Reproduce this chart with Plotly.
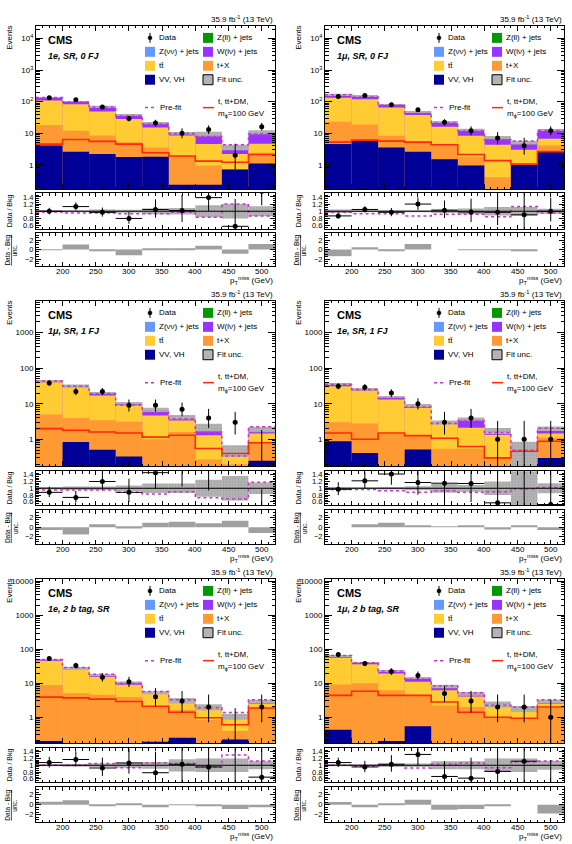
import math
import plotly.graph_objects as go

FIG_W, FIG_H = 572, 844
BIN_EDGES = [160, 200, 240, 280, 320, 360, 400, 440, 480, 520]
BIN_CENTERS = [180, 220, 260, 300, 340, 380, 420, 460, 500]
BIN_WIDTH = 40
X_TICK_LABELS = [200, 250, 300, 350, 400, 450, 500]

# ---------------- Panel A : 1e, SR, 0 FJ ----------------
A_VV = [4.1, 2.6, 2.2, 1.75, 1.8, 0.23, 0.23, 0.7, 1.1]
A_TX = [13.9, 9.4, 6.3, 3.45, 1.7, 1.67, 0.72, 0.02, 1.3]
A_TT = [90, 71, 40.5, 22.8, 11.5, 6.6, 3.55, 1.48, 2.2]
A_WL = [29, 19, 22, 10, 6, 1.5, 5.0, 1.4, 6.2]
A_DATA = [133, 115, 68, 29, 21, 10, 13, 2, 16]
A_SIG = [4.5, 6.3, 5.5, 4.5, 2.4, 1.9, 1.3, 1.2, 2.1]
A_RATIO = [1.0, 1.13, 0.97, 0.8, 1.05, 1.02, 1.38, 0.58, 1.55]
A_UNC = [0.03, 0.03, 0.05, 0.04, 0.08, 0.09, 0.17, 0.2, 0.14]
A_PREFIT = [0.98, 0.95, 0.95, 0.93, 0.93, 0.97, 0.83, 1.2, 0.87]
A_PULL = [-0.1, 1.1, -0.3, -1.2, 0.3, 0.1, 0.8, -0.9, 1.2]

# ---------------- Panel B : 1mu, SR, 0 FJ ----------------
B_VV = [4.5, 5.8, 3.5, 2.6, 1.5, 0.95, 0, 1.0, 2.6]
B_TX = [18.5, 13.2, 4.8, 2.8, 2.8, 0.85, 0.4, 0.1, 1.5]
B_TT = [110, 99, 56.7, 32.6, 11.7, 6.5, 3.9, 1.9, 2.5]
B_WL = [37, 33, 17, 10, 7, 4.4, 3.0, 2.0, 6.1]
B_DATA = [145, 155, 80, 55, 22, 12, 7, 4, 12]
B_SIG = [5.2, 6.0, 5.6, 5.2, 4.3, 2.1, 1.35, 1.05, 2.6]
B_RATIO = [0.87, 1.05, 0.97, 1.2, 1.03, 0.98, 0.97, 0.9, 1.0]
B_UNC = [0.05, 0.03, 0.03, 0.03, 0.05, 0.08, 0.12, 0.12, 0.07]
B_PREFIT = [0.97, 0.93, 0.93, 0.87, 0.92, 0.92, 0.85, 1.13, 0.95]
B_PULL = [-1.4, 0.5, -0.2, 1.2, 0.0, -0.1, -0.1, -0.2, 0.0]

# ---------------- Panel C : 1mu, SR, 1 FJ ----------------
C_VV = [0, 0.84, 0.51, 0.33, 0, 0, 0, 0, 0.25]
C_TX = [5, 3.16, 2.9, 2.77, 1.0, 1.6, 0.27, 0.2, 0.6]
C_TT = [35, 25, 13.6, 5.9, 3.7, 1.8, 1.03, 0.22, 0.6]
C_WL = [5, 4, 3, 1.4, 2.1, 0.8, 0.9, 0.08, 0.45]
C_DATA = [38, 22, 22, 9, 9, 7, 4, 3, 0]
C_SIG = [2.0, 1.8, 1.6, 1.5, 1.15, 1.3, 0.55, 0.4, 0.8]
C_RATIO = [0.88, 0.73, 1.2, 0.88, 1.46, 1.67, 1.8, 6.0, 0.0]
C_UNC = [0.04, 0.05, 0.05, 0.08, 0.14, 0.14, 0.25, 0.36, 0.17]
C_PREFIT = [0.95, 0.95, 0.95, 0.88, 0.83, 0.9, 0.72, 0.68, 1.18]
C_PULL = [-0.6, -1.5, 0.6, -0.3, 0.9, 1.1, 0.8, 1.3, -1.2]

# ---------------- Panel D : 1e, SR, 1 FJ ----------------
D_VV = [0.88, 0.41, 0, 0.52, 0, 0, 0, 0, 0.3]
D_TX = [2.12, 2.39, 1.4, 0.78, 0.54, 0.54, 0.3, 0.2, 0.8]
D_TT = [28, 20.7, 11.8, 6.4, 2.16, 1.56, 1.02, 0.06, 0.35]
D_WL = [5, 2.5, 2.2, 1.5, 0.3, 1.6, 0.42, 0.24, 0.55]
D_DATA = [31, 29, 20, 10, 3, 4, 1, 1, 1]
D_SIG = [1.5, 1.0, 1.5, 1.27, 1.07, 0.63, 0.3, 0.46, 0.88]
D_RATIO = [0.97, 1.22, 1.42, 1.17, 1.15, 1.14, 0.57, 2.0, 0.52]
D_UNC = [0.03, 0.03, 0.04, 0.06, 0.13, 0.1, 0.2, 0.7, 0.15]
D_PREFIT = [0.96, 0.96, 0.93, 0.88, 0.93, 0.88, 0.9, 0.98, 1.02]
D_PULL = [0.0, 0.6, 0.9, 0.2, 0.1, 0.3, -0.5, 0.3, -0.6]

# ---------------- Panel E : 1e, 2 b tag, SR ----------------
E_VV = [0.2, 0, 0, 0, 0.19, 0.25, 0, 0.22, 0]
E_TX = [8.7, 5.1, 4.6, 3.9, 1.91, 1.42, 0.82, 0.17, 1.87]
E_TT = [37.1, 20.9, 11, 5.1, 2.7, 1.13, 1.05, 0.51, 0.63]
E_WL = [4, 3, 1.9, 1.5, 0.5, 0.3, 0.13, 0.15, 0.4]
E_DATA = [53, 33, 15, 11, 4, 3, 2, 0, 2]
E_SIG = [3.9, 3.7, 3.4, 2.9, 2.1, 1.4, 0.96, 0.6, 1.87]
E_RATIO = [1.08, 1.17, 0.92, 1.07, 0.78, 1.03, 0.95, 0.0, 0.65]
E_UNC = [0.03, 0.04, 0.05, 0.07, 0.1, 0.18, 0.2, 0.2, 0.12]
E_PREFIT = [1.0, 1.0, 1.05, 0.93, 1.07, 1.05, 0.95, 1.3, 1.13]
E_PULL = [0.6, 0.9, -0.3, 0.2, -0.5, -0.1, -0.2, -0.9, -0.5]

# ---------------- Panel F : 1mu, 2 b tag, SR ----------------
F_VV = [0.43, 0, 0.2, 0.54, 0, 0, 0, 0, 0]
F_TX = [8.67, 10, 6.0, 3.86, 2.2, 2.0, 1.0, 0.93, 1.85]
F_TT = [46.9, 26, 13.2, 6.6, 4.0, 2.1, 1.2, 0.54, 0.65]
F_WL = [9, 5, 3.6, 3.4, 1.9, 0.8, 0.2, 0.3, 0.4]
F_DATA = [70, 38, 22, 17, 5, 3, 2, 2, 1]
F_SIG = [4.4, 5.8, 4.4, 4.4, 2.8, 1.4, 1.0, 0.93, 2.0]
F_RATIO = [1.08, 0.95, 1.03, 1.32, 0.67, 0.62, 0.82, 1.12, 0.35]
F_UNC = [0.03, 0.03, 0.05, 0.05, 0.12, 0.12, 0.2, 0.2, 0.13]
F_PREFIT = [1.0, 0.97, 1.0, 0.92, 1.03, 1.07, 0.93, 1.1, 1.13]
F_PULL = [0.55, -0.5, 0.1, 1.0, -1.05, -0.9, -0.3, 0.0, -1.8]

LABELS = ["1e, SR, 0 FJ", "1\u03bc, SR, 0 FJ", "1\u03bc, SR, 1 FJ",
          "1e, SR, 1 FJ", "1e, 2 b tag, SR", "1\u03bc, 2 b tag, SR"]
MAIN_TICKS = [1, 10, 100, 1000, 10000]
MAIN_TICKTEXT_ROW = [
    ["1", "10", "10<sup>2</sup>", "10<sup>3</sup>", "10<sup>4</sup>"],
    ["1", "10", "100", "1000", "10000"],
    ["1", "10", "100", "1000", "10000"],
]
MAIN_RANGE_ROW = [[-0.78, 4.4], [-0.76, 3.89], [-0.77, 4.07]]
RATIO_TICKS = [0.6, 0.8, 1.0, 1.2, 1.4]
RATIO_TICKTEXT = ["0.6", "0.8", "1", "1.2", "1.4"]
PULL_TICKS = [-2, 0, 2]
PULL_TICKTEXT = ["\u22122", "0", "2"]

COL_VV = "#000099"
COL_TX = "#ff9933"
COL_TT = "#ffcc33"
COL_WL = "#9933ff"
COL_ZNN = "#6699ff"
COL_ZLL = "#009900"
COL_UNC = "#b4b4b4"
COL_SIG = "#ff2a00"
COL_PRE = "#cc33cc"
FONT = "Liberation Sans, Arial, sans-serif"

PANELS = [
    dict(vv=A_VV, tx=A_TX, tt=A_TT, wl=A_WL, data=A_DATA, sig=A_SIG, ratio=A_RATIO, unc=A_UNC, pre=A_PREFIT, pull=A_PULL),
    dict(vv=B_VV, tx=B_TX, tt=B_TT, wl=B_WL, data=B_DATA, sig=B_SIG, ratio=B_RATIO, unc=B_UNC, pre=B_PREFIT, pull=B_PULL),
    dict(vv=C_VV, tx=C_TX, tt=C_TT, wl=C_WL, data=C_DATA, sig=C_SIG, ratio=C_RATIO, unc=C_UNC, pre=C_PREFIT, pull=C_PULL),
    dict(vv=D_VV, tx=D_TX, tt=D_TT, wl=D_WL, data=D_DATA, sig=D_SIG, ratio=D_RATIO, unc=D_UNC, pre=D_PREFIT, pull=D_PULL),
    dict(vv=E_VV, tx=E_TX, tt=E_TT, wl=E_WL, data=E_DATA, sig=E_SIG, ratio=E_RATIO, unc=E_UNC, pre=E_PREFIT, pull=E_PULL),
    dict(vv=F_VV, tx=F_TX, tt=F_TT, wl=F_WL, data=F_DATA, sig=F_SIG, ratio=F_RATIO, unc=F_UNC, pre=F_PREFIT, pull=F_PULL),
]

# ---- layout geometry (pixels) ----
COLS = [(36, 275), (325, 564)]
ROWS = [
    dict(main=(24, 188), ratio=(192, 228), pull=(232, 265)),
    dict(main=(300, 466), ratio=(471, 505), pull=(510, 544)),
    dict(main=(579, 744), ratio=(749, 783), pull=(788, 823)),
]


def xp(px):
    return px / FIG_W


def yp(py):
    return 1 - py / FIG_H


# ---- Garwood (Poisson 68%) intervals ----
ALPHA2 = 0.5 * (1 - 0.682689)


def pois_cdf(k, mu):
    if k < 0:
        return 0.0
    if mu <= 0:
        return 1.0
    s = 0.0
    for i in range(k + 1):
        s += math.exp(i * math.log(mu) - mu - math.lgamma(i + 1))
    return s


def bisect(f, lo, hi, it=80):
    for _ in range(it):
        mid = 0.5 * (lo + hi)
        if f(mid) > 0:
            lo = mid
        else:
            hi = mid
    return 0.5 * (lo + hi)


def garwood(n):
    up = bisect(lambda u: pois_cdf(n, u) - ALPHA2, float(n), n + 10 * math.sqrt(n + 1) + 10)
    lo = 0.0 if n == 0 else bisect(lambda l: pois_cdf(n - 1, l) - (1 - ALPHA2), 0.0, float(n))
    return lo, up


def step(vals):
    return list(BIN_EDGES), list(vals) + [vals[-1]]


fig = go.Figure()
layout = dict(width=FIG_W, height=FIG_H, margin=dict(l=0, r=0, t=0, b=0),
              paper_bgcolor="white", plot_bgcolor="white", showlegend=False,
              barmode="overlay", font=dict(family=FONT, size=8, color="black"))
shapes = []
annotations = []

unc_marker = dict(color=COL_UNC, line=dict(width=0),
                  pattern=dict(shape="+", fgcolor="#808080", size=3, solidity=0.2, fillmode="overlay"))


def decade_minor(lo, hi):
    vals = []
    for d in range(int(math.floor(lo)), int(math.ceil(hi)) + 1):
        for m in range(2, 10):
            vals.append(m * 10 ** d)
    return vals


def note(x, y, text, size=8, xanchor="left", yanchor="middle", angle=0, xref="paper"):
    annotations.append(dict(x=x, y=y, xref=xref, yref="paper", xanchor=xanchor, yanchor=yanchor,
                            textangle=angle, text=text, showarrow=False,
                            font=dict(size=size, family=FONT, color="black")))


for p, pan in enumerate(PANELS):
    row, col = divmod(p, 2)
    L, R = COLS[col]
    geo = ROWS[row]
    refs = []
    for s, key in enumerate(["main", "ratio", "pull"]):
        k = p * 3 + s + 1
        r = "" if k == 1 else str(k)
        refs.append(r)
        top, bot = geo[key]
        xa = dict(domain=[xp(L), xp(R)], anchor="y" + r, range=[160, 520],
                  showline=True, linecolor="black", linewidth=1, mirror="ticks",
                  ticks="inside", ticklen=5 if s == 0 else 4, tickcolor="black",
                  tickmode="linear", tick0=0, dtick=50,
                  minor=dict(ticks="inside", ticklen=2.5, tickmode="linear", tick0=0, dtick=10, tickcolor="black"),
                  showgrid=False, zeroline=False, showticklabels=False)
        ya = dict(domain=[yp(bot), yp(top)], anchor="x" + r,
                  showline=True, linecolor="black", linewidth=1, mirror="ticks",
                  ticks="inside", tickcolor="black", showgrid=False, zeroline=False,
                  tickfont=dict(size=8, family=FONT))
        if s == 0:
            rng = MAIN_RANGE_ROW[row]
            ya.update(type="log", range=rng, tickmode="array", tickvals=MAIN_TICKS,
                      ticktext=MAIN_TICKTEXT_ROW[row], ticklen=7,
                      minor=dict(ticks="inside", ticklen=3.5, tickvals=decade_minor(rng[0], rng[1]), tickcolor="black"))
        elif s == 1:
            ya.update(range=[0.5, 1.5], tickmode="array", tickvals=RATIO_TICKS, ticktext=RATIO_TICKTEXT,
                      ticklen=5, tickfont=dict(size=7.5, family=FONT),
                      minor=dict(ticks="inside", ticklen=2.5, tickmode="linear", tick0=0, dtick=0.05, tickcolor="black"))
        else:
            ya.update(range=[-3.5, 3.5], tickmode="array", tickvals=PULL_TICKS, ticktext=PULL_TICKTEXT,
                      ticklen=5, tickfont=dict(size=7.5, family=FONT),
                      minor=dict(ticks="inside", ticklen=2.5, tickmode="linear", tick0=0, dtick=0.5, tickcolor="black"))
        layout["xaxis" + r] = xa
        layout["yaxis" + r] = ya

    rm, rr, rp = refs
    # --- stacked backgrounds (cumulative, drawn back-to-front) ---
    c1 = [a for a in pan["vv"]]
    c2 = [a + b for a, b in zip(c1, pan["tx"])]
    c3 = [a + b for a, b in zip(c2, pan["tt"])]
    c4 = [a + b for a, b in zip(c3, pan["wl"])]
    total = c4
    for cum, colr in [(c4, COL_WL), (c3, COL_TT), (c2, COL_TX), (c1, COL_VV)]:
        fig.add_trace(go.Bar(x=BIN_CENTERS, y=cum, width=BIN_WIDTH, marker=dict(color=colr, line=dict(width=0)),
                             xaxis="x" + rm, yaxis="y" + rm, hoverinfo="skip"))
    # fit uncertainty band
    fig.add_trace(go.Bar(x=BIN_CENTERS, y=[2 * u * t for u, t in zip(pan["unc"], total)],
                         base=[(1 - u) * t for u, t in zip(pan["unc"], total)], width=BIN_WIDTH,
                         marker=unc_marker, xaxis="x" + rm, yaxis="y" + rm, hoverinfo="skip"))
    # pre-fit
    sx, sy = step([t * f for t, f in zip(total, pan["pre"])])
    fig.add_trace(go.Scatter(x=sx, y=sy, mode="lines", line=dict(color=COL_PRE, width=1.5, dash="dot", shape="hv"),
                             xaxis="x" + rm, yaxis="y" + rm, hoverinfo="skip"))
    # signal
    sx, sy = step(pan["sig"])
    fig.add_trace(go.Scatter(x=sx, y=sy, mode="lines", line=dict(color=COL_SIG, width=1.6, shape="hv"),
                             xaxis="x" + rm, yaxis="y" + rm, hoverinfo="skip"))
    # data
    dy, dplus, dminus = [], [], []
    ry, rplus, rminus = [], [], []
    for n, rt, t in zip(pan["data"], pan["ratio"], total):
        lo, up = garwood(n)
        if n > 0:
            dy.append(n)
            dplus.append(up - n)
            dminus.append(n - lo)
            beff = n / rt
            ry.append(rt)
            rplus.append((up - n) / beff)
            rminus.append((n - lo) / beff)
        else:
            yv = 1e-3
            dy.append(yv)
            dplus.append(up - yv)
            dminus.append(0)
            ry.append(0.0)
            rplus.append(up / t)
            rminus.append(0)
    fig.add_trace(go.Scatter(x=BIN_CENTERS, y=dy, mode="markers",
                             marker=dict(color="black", size=5, symbol="circle"),
                             error_y=dict(type="data", symmetric=False, array=dplus, arrayminus=dminus,
                                          color="black", thickness=1, width=0),
                             xaxis="x" + rm, yaxis="y" + rm, hoverinfo="skip"))

    # --- ratio panel ---
    fig.add_trace(go.Bar(x=BIN_CENTERS, y=[2 * u for u in pan["unc"]], base=[1 - u for u in pan["unc"]],
                         width=BIN_WIDTH, marker=unc_marker, xaxis="x" + rr, yaxis="y" + rr, hoverinfo="skip"))
    sx, sy = step(pan["pre"])
    fig.add_trace(go.Scatter(x=sx, y=sy, mode="lines", line=dict(color=COL_PRE, width=1.5, dash="dot", shape="hv"),
                             xaxis="x" + rr, yaxis="y" + rr, hoverinfo="skip"))
    shapes.append(dict(type="line", xref="x" + rr + " domain", x0=0, x1=1, yref="y" + rr, y0=1, y1=1,
                       line=dict(color="black", width=1)))
    fig.add_trace(go.Scatter(x=BIN_CENTERS, y=ry, mode="markers",
                             marker=dict(color="black", size=5),
                             error_y=dict(type="data", symmetric=False, array=rplus, arrayminus=rminus,
                                          color="black", thickness=1, width=0),
                             error_x=dict(type="constant", value=BIN_WIDTH / 2, color="black", thickness=1, width=0),
                             xaxis="x" + rr, yaxis="y" + rr, hoverinfo="skip"))

    # --- pull panel ---
    fig.add_trace(go.Bar(x=BIN_CENTERS, y=pan["pull"], width=BIN_WIDTH,
                         marker=dict(color="#a0a0a0", line=dict(width=0)),
                         xaxis="x" + rp, yaxis="y" + rp, hoverinfo="skip"))

    # --- texts ---
    T, B = geo["main"]
    note(xp(L + 10), yp(T + 14), "<b>CMS</b>", size=11)
    note(xp(L + 10), yp(T + 30), "<b><i>" + LABELS[p] + "</i></b>", size=9)
    note(xp(R), yp(T - 7), "35.9 fb<sup>-1</sup> (13 TeV)", size=8, xanchor="right")
    note(xp(L - 26), yp(T + 12), "Events", size=8, xanchor="center", angle=-90)
    rt_, rb_ = geo["ratio"]
    note(xp(L - 26), yp((rt_ + rb_) / 2), "Data / Bkg", size=7, xanchor="center", angle=-90)
    pt_, pb_ = geo["pull"]
    note(xp(L - 28), yp((pt_ + pb_) / 2 + 1), "<u>Data - Bkg</u>", size=6.5, xanchor="center", angle=-90)
    note(xp(L - 21), yp((pt_ + pb_) / 2 + 1), "unc.", size=6.5, xanchor="center", angle=-90)
    note(xp(R), yp(pb_ + 14), "p<sub>T</sub><sup>miss</sup> (GeV)", size=8, xanchor="right")
    for v in X_TICK_LABELS:
        note(v, yp(pb_ + 5.5), str(v), size=8, xanchor="center", xref="x" + rp)

    # --- legend (manual, two columns) ---
    c1x, c2x = L + 109, L + 167
    rows_dy = [12, 26, 40, 54]
    yy = T + rows_dy[0]
    shapes.append(dict(type="line", xref="paper", yref="paper", x0=xp(c1x + 5), x1=xp(c1x + 5),
                       y0=yp(yy - 5), y1=yp(yy + 5), line=dict(color="black", width=1)))
    shapes.append(dict(type="circle", xref="paper", yref="paper", x0=xp(c1x + 3), x1=xp(c1x + 7),
                       y0=yp(yy - 2), y1=yp(yy + 2), fillcolor="black", line=dict(color="black", width=0.5)))
    entries = [
        (c1x, rows_dy[0], None, "Data"),
        (c2x, rows_dy[0], COL_ZLL, "Z(ll) + jets"),
        (c1x, rows_dy[1], COL_ZNN, "Z(\u03bd\u03bd) + jets"),
        (c2x, rows_dy[1], COL_WL, "W(l\u03bd) + jets"),
        (c1x, rows_dy[2], COL_TT, "tt\u0304"),
        (c2x, rows_dy[2], COL_TX, "t+X"),
        (c1x, rows_dy[3], COL_VV, "VV, VH"),
        (c2x, rows_dy[3], "UNC", "Fit unc."),
    ]
    for ex, edy, colr, txt in entries:
        yy = T + edy
        if colr is not None:
            if colr == "UNC":
                shapes.append(dict(type="rect", xref="paper", yref="paper", x0=xp(ex), x1=xp(ex + 10),
                                   y0=yp(yy + 5), y1=yp(yy - 5), fillcolor=COL_UNC, line=dict(color="black", width=1)))
            else:
                shapes.append(dict(type="rect", xref="paper", yref="paper", x0=xp(ex), x1=xp(ex + 10),
                                   y0=yp(yy + 5), y1=yp(yy - 5), fillcolor=colr, line=dict(width=0)))
        note(xp(ex + 12), yp(yy), txt, size=8)
    yy = T + 82
    shapes.append(dict(type="line", xref="paper", yref="paper", x0=xp(c1x), x1=xp(c1x + 11),
                       y0=yp(yy), y1=yp(yy), line=dict(color=COL_PRE, width=1.5, dash="dot")))
    note(xp(c1x + 13), yp(yy), "Pre-fit", size=8)
    shapes.append(dict(type="line", xref="paper", yref="paper", x0=xp(c2x), x1=xp(c2x + 11),
                       y0=yp(yy), y1=yp(yy), line=dict(color=COL_SIG, width=1.5)))
    note(xp(c2x + 13), yp(yy - 6), "t, tt+DM,", size=8)
    note(xp(c2x + 13), yp(yy + 6), "m<sub>\u03d5</sub>=100 GeV", size=8)

layout["shapes"] = shapes
layout["annotations"] = annotations
fig.update_layout(**layout)
fig.write_html("out.html", config={"displayModeBar": False},
               post_script="document.body.style.margin='0';")
